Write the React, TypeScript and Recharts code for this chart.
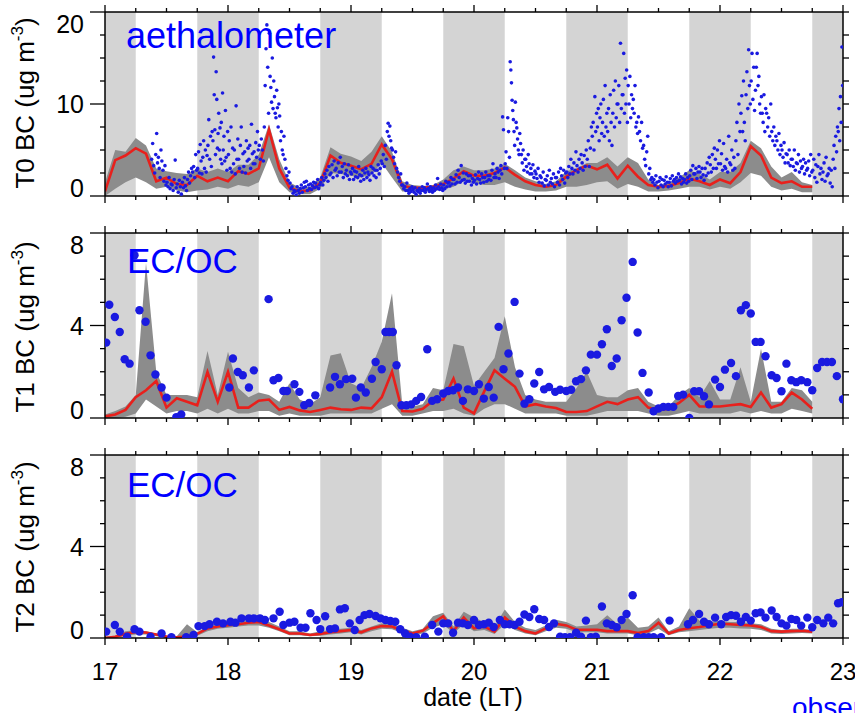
import React from "react";
import { ComposedChart, Area, Line, Scatter, XAxis, YAxis, ReferenceArea } from "recharts";

const FONT = '"Liberation Sans", Arial, Helvetica, sans-serif';
const NIGHT_FILL = "#d4d4d4";
const BAND_FILL = "#8c8c8c";
const MODEL_RED = "#e8201c";
const OBS_BLUE = "#1a1ae0";
const LABEL_BLUE = "#0000ff";

const days = [17, 18, 19, 20, 21, 22, 23];
const dayQuarters = [0, 0.25, 0.5, 0.75];
const nightStart = [17.0, 17.75, 18.75, 19.75, 20.75, 21.75, 22.75];
const nightEnd = [17.25, 18.25, 19.25, 20.25, 21.25, 22.25, 23.0];

// model output every 2 h from 17.00 to 22.75
const MODEL_START = 17;
const MODEL_STEP = 2 / 24;

// T0 (ug m-3)
const t0Mean = [
  0.5, 3.9, 4.4, 5.2, 4.6, 1.6, 2.0, 1.3, 1.2, 2.2, 1.6, 2.0,
  1.6, 2.7, 2.4, 3.0, 7.2, 3.0, 0.9, 0.5, 0.6, 1.4, 4.4, 3.6,
  3.3, 2.9, 3.5, 5.6, 4.0, 1.1, 0.9, 0.9, 1.0, 1.3, 1.9, 2.7,
  2.2, 2.2, 2.5, 3.1, 2.3, 1.6, 1.2, 1.0, 1.2, 2.1, 2.8, 3.3,
  2.9, 3.4, 1.9, 3.3, 2.1, 1.2, 1.0, 1.1, 1.4, 1.9, 1.6, 1.2,
  1.8, 1.4, 2.6, 5.4, 4.4, 2.0, 1.4, 1.6, 1.0, 1.0,
];
const t0High = [
  1.5, 5.0, 4.8, 6.3, 5.5, 3.0, 2.7, 2.5, 2.4, 3.0, 2.6, 3.0,
  2.6, 3.4, 3.4, 4.5, 7.8, 4.0, 1.5, 0.9, 1.0, 2.0, 5.3, 4.6,
  4.3, 3.8, 4.8, 6.5, 4.8, 1.6, 1.2, 1.1, 1.2, 1.8, 2.8, 3.2,
  2.8, 2.8, 3.0, 3.5, 2.8, 2.0, 1.6, 1.3, 1.6, 2.7, 3.0, 3.6,
  3.6, 4.2, 3.2, 4.2, 3.6, 1.8, 1.2, 1.4, 2.0, 2.8, 2.4, 1.8,
  2.6, 2.6, 3.6, 6.0, 5.2, 3.2, 2.0, 2.6, 1.5, 1.2,
];
const t0Low = [
  0.0, 0.8, 1.5, 2.0, 1.5, 0.8, 1.0, 0.6, 0.4, 0.6, 0.7, 1.0,
  0.8, 1.2, 1.0, 1.5, 4.2, 1.5, 0.4, 0.2, 0.2, 0.8, 2.5, 2.4,
  2.2, 2.0, 2.4, 3.6, 2.0, 0.5, 0.5, 0.5, 0.5, 0.7, 1.0, 1.6,
  1.4, 1.2, 1.2, 1.5, 1.0, 0.7, 0.5, 0.5, 0.6, 1.0, 1.0, 1.2,
  1.5, 1.6, 0.8, 1.3, 1.0, 0.5, 0.5, 0.6, 0.8, 1.0, 1.0, 0.7,
  1.0, 0.8, 1.5, 2.5, 2.2, 1.0, 0.6, 0.8, 0.4, 0.4,
];

// T1
const t1Mean = [
  0.07, 0.15, 0.35, 0.9, 1.2, 1.6, 0.45, 0.85, 0.7, 0.55, 1.99, 0.7,
  2.0, 0.45, 0.45, 0.75, 0.8, 0.35, 0.48, 0.33, 0.26, 0.35, 0.45, 0.38,
  0.35, 0.45, 0.42, 0.9, 2.0, 0.3, 0.28, 0.4, 0.75, 0.8, 1.7, 0.45,
  0.2, 1.15, 2.06, 1.7, 1.35, 0.5, 0.6, 0.5, 0.43, 0.26, 0.26, 0.3,
  0.5, 0.7, 0.6, 0.8, 0.9, 0.45, 0.35, 0.4, 0.65, 1.0, 0.5, 0.5,
  0.5, 0.55, 0.6, 0.48, 1.1, 0.45, 0.6, 1.1, 0.8, 0.4,
];
const t1High = [
  0.15, 0.3, 0.5, 1.0, 6.7, 2.0, 1.0, 1.0, 1.0, 0.9, 2.9, 1.0,
  2.86, 1.3, 0.9, 1.1, 1.0, 0.7, 1.5, 0.8, 0.6, 0.9, 2.7, 2.8,
  1.5, 1.3, 2.2, 3.3, 5.4, 0.6, 0.5, 0.6, 1.3, 1.2, 3.2, 3.1,
  1.4, 2.0, 2.6, 4.4, 2.2, 1.0, 0.8, 0.7, 0.7, 0.7, 1.3, 2.0,
  1.0, 0.9, 0.9, 1.2, 1.3, 0.7, 0.5, 0.5, 1.0, 1.3, 0.9, 1.6,
  0.8, 0.8, 2.2, 0.7, 3.0, 0.7, 0.7, 1.3, 1.2, 0.7,
];
const t1Low = [
  0, 0, 0.05, 0.2, 0.8, 0.5, 0.2, 0.3, 0.3, 0.2, 0.4, 0.2,
  0.4, 0.2, 0.2, 0.3, 0.3, 0.1, 0.2, 0.1, 0.1, 0.1, 0.2, 0.2,
  0.2, 0.2, 0.2, 0.4, 0.6, 0.1, 0.1, 0.2, 0.3, 0.3, 0.4, 0.2,
  0.1, 0.4, 0.6, 0.6, 0.4, 0.2, 0.2, 0.2, 0.2, 0.1, 0.1, 0.1,
  0.2, 0.3, 0.3, 0.3, 0.3, 0.2, 0.1, 0.1, 0.2, 0.3, 0.2, 0.2,
  0.2, 0.2, 0.3, 0.2, 0.3, 0.2, 0.2, 0.4, 0.3, 0.2,
];

// T2
const t2Mean = [
  0.0, 0.05, 0.18, 0.26, 0.24, 0.15, 0.06, 0.03, 0.06, 0.18, 0.42, 0.5,
  0.56, 0.6, 0.67, 0.7, 0.55, 0.38, 0.2, 0.2, 0.13, 0.18, 0.25, 0.3,
  0.35, 0.25, 0.42, 0.52, 0.5, 0.33, 0.2, 0.32, 0.65, 0.95, 0.3, 0.9,
  0.42, 0.5, 0.28, 0.9, 0.5, 0.3, 0.2, 0.42, 0.62, 0.55, 0.36, 0.36,
  0.36, 0.3, 0.3, 0.3, 0.22, 0.3, 0.67, 0.2, 0.35, 0.43, 0.48, 0.56,
  0.62, 0.6, 0.57, 0.55, 0.48, 0.3, 0.28, 0.3, 0.32, 0.28,
];
const t2High = [
  0.05, 0.1, 0.3, 0.35, 0.3, 0.2, 0.1, 0.08, 0.6, 0.25, 0.5, 0.6,
  0.65, 0.7, 0.8, 0.85, 0.7, 0.5, 0.3, 0.3, 0.2, 0.3, 0.35, 0.4,
  0.45, 0.35, 0.5, 0.65, 0.6, 0.45, 0.3, 0.4, 0.95, 1.1, 0.5, 1.15,
  0.9, 0.7, 0.5, 1.25, 0.7, 0.45, 0.35, 0.55, 0.8, 0.7, 0.5, 0.55,
  0.6, 1.0, 0.6, 0.9, 0.45, 0.5, 0.9, 0.3, 0.5, 1.3, 0.75, 0.7,
  0.75, 0.7, 0.7, 0.65, 0.6, 0.4, 0.35, 0.4, 0.4, 0.35,
];
const t2Low = [
  0, 0, 0.1, 0.15, 0.15, 0.08, 0.02, 0, 0.02, 0.1, 0.3, 0.4,
  0.45, 0.5, 0.55, 0.55, 0.45, 0.3, 0.12, 0.12, 0.08, 0.1, 0.15, 0.2,
  0.25, 0.15, 0.3, 0.4, 0.38, 0.22, 0.12, 0.2, 0.45, 0.6, 0.2, 0.6,
  0.3, 0.35, 0.18, 0.6, 0.35, 0.2, 0.12, 0.3, 0.45, 0.4, 0.25, 0.25,
  0.25, 0.2, 0.2, 0.2, 0.12, 0.2, 0.4, 0.12, 0.25, 0.3, 0.35, 0.4,
  0.45, 0.45, 0.42, 0.4, 0.35, 0.2, 0.18, 0.2, 0.22, 0.2,
];

// aethalometer samples, grouped by hour from 17.00 (one list per hour)
const aethHourly: number[][] = [
  // 17th
  [], [], [], [], [], [], [], [], [],
  [4.0, 5.7, 3.3, 2.5, 4.5], [6.8, 3.6, 4.2, 3.0, 2.0, 5.0], [3.8, 2.8, 1.6, 3.3, 1.2],
  [1.5, 1.0, 2.0, 0.8, 1.3], [1.2, 0.6, 1.8, 3.9, 0.9], [1.3, 0.4, 1.7, 1.0, 0.2],
  [1.5, 0.9, 2.0, 1.1, 0.6], [1.8, 2.6, 1.4, 2.2, 3.0], [2.6, 3.2, 2.0, 4.5, 2.8],
  [3.0, 4.8, 2.5, 5.6, 3.8, 2.4], [4.2, 6.0, 3.0, 5.0, 2.6, 4.4], [5.5, 8.3, 4.0, 6.5, 3.2, 7.0],
  [6.0, 15.1, 11.0, 7.2, 4.5, 13.5, 10.5, 5.2], [6.8, 9.0, 5.0, 7.4, 4.0, 8.0, 3.5, 11.2],
  [5.0, 6.5, 3.8, 9.3, 4.2, 2.8, 7.0],
  // 18th
  [4.5, 6.0, 3.0, 7.5, 2.6, 5.2], [3.5, 5.0, 2.4, 9.8, 4.0, 6.2], [4.0, 3.0, 5.5, 7.5, 2.6, 4.6],
  [3.2, 4.8, 2.5, 6.0, 3.8, 5.2], [4.0, 5.5, 3.0, 7.8, 4.6, 3.5], [4.8, 3.5, 5.8, 4.2, 7.0, 5.0],
  [5.5, 4.0, 6.2, 5.0, 3.8], [7.5, 12.0, 16.0, 18.6, 14.0, 9.0],
  [17.7, 13.0, 11.8, 10.2, 15.0, 9.5, 12.5], [10.8, 9.0, 8.5, 11.5, 9.6, 7.5, 10.0],
  [8.7, 6.0, 7.0, 5.0, 4.5, 6.5], [4.0, 3.0, 2.2, 1.7, 2.6],
  [1.4, 0.8, 1.0, 0.3, 0.6], [0.5, 0.1, 1.0, 0.6, 0.3], [0.8, 1.2, 0.4, 0.9, 1.5],
  [1.0, 1.6, 0.6, 1.2, 0.8], [1.3, 0.7, 1.1, 1.5, 0.9], [1.4, 1.0, 1.8, 0.8, 1.2],
  [1.5, 2.0, 1.2, 1.7, 2.4], [2.0, 2.8, 1.6, 3.2, 2.3], [2.5, 3.4, 2.0, 3.8, 2.8],
  [3.0, 2.2, 3.6, 2.6, 4.2], [2.6, 3.2, 2.0, 3.5, 2.4], [2.8, 2.2, 3.4, 1.8, 2.6],
  // 19th
  [2.4, 3.0, 1.8, 2.7, 2.1], [2.6, 2.0, 3.2, 2.3, 1.6], [2.2, 2.8, 1.8, 2.5, 3.0],
  [2.0, 2.6, 2.3, 1.7, 3.2], [2.5, 3.0, 2.2, 2.8, 2.0], [2.8, 3.4, 2.4, 3.0, 3.8],
  [3.5, 4.5, 3.2, 5.5, 4.0], [7.0, 7.9, 6.5, 7.6, 6.0, 5.2], [5.0, 4.2, 3.5, 4.8, 3.0],
  [2.6, 2.0, 1.6, 2.4, 1.2], [1.2, 0.8, 1.0, 0.6, 1.4], [0.6, 0.3, 0.8, 0.5, 1.0],
  [0.7, 0.4, 0.9, 0.2, 0.6], [0.5, 0.8, 0.3, 0.6, 1.0], [0.6, 0.9, 0.4, 0.7, 1.3],
  [0.8, 0.5, 1.0, 0.7, 0.4], [0.9, 0.6, 1.2, 0.8, 1.9], [1.0, 0.7, 1.3, 0.9, 0.6],
  [1.2, 0.8, 1.6, 1.0, 1.4], [1.5, 1.1, 2.0, 1.3, 1.8], [1.8, 1.3, 2.3, 1.5, 2.8],
  [2.0, 1.5, 3.3, 1.7, 2.5], [1.8, 1.4, 2.4, 1.6, 2.2], [1.6, 2.2, 1.2, 1.9, 1.5],
  // 20th
  [1.7, 2.3, 1.3, 1.9, 2.6], [1.8, 1.4, 2.4, 2.0, 1.5], [2.0, 2.6, 1.6, 2.2, 1.8],
  [2.2, 1.7, 2.8, 3.5, 2.0], [2.4, 2.0, 3.0, 2.6, 1.9], [2.8, 3.3, 2.4, 8.6, 7.2, 3.0],
  [3.5, 4.8, 3.0, 8.5, 7.0, 4.2], [14.6, 13.7, 12.3, 10.4, 9.3, 8.3, 7.0, 5.5],
  [10.2, 8.0, 7.4, 6.2, 5.0, 4.5, 6.8], [5.7, 4.5, 3.6, 5.0, 2.8, 4.0],
  [4.0, 3.2, 2.6, 4.5, 3.5, 2.4], [3.0, 2.4, 3.4, 2.0, 2.7],
  [2.4, 1.9, 3.0, 1.5, 2.2], [2.0, 1.4, 2.6, 1.1, 1.8], [1.7, 2.2, 1.2, 2.8, 1.5],
  [1.9, 1.3, 2.4, 1.0, 2.0], [2.0, 1.5, 2.6, 1.2, 3.0], [2.2, 1.8, 2.8, 1.4, 2.5],
  [2.6, 2.0, 3.2, 2.4, 4.0], [3.0, 2.4, 3.6, 2.8, 4.8], [3.3, 2.6, 4.0, 3.0, 4.5],
  [3.6, 2.8, 4.4, 3.2, 5.0], [4.0, 6.0, 3.2, 5.2, 7.5], [6.5, 8.0, 5.0, 10.8, 7.0, 9.0],
  // 21st
  [7.5, 9.5, 6.0, 8.5, 10.0, 6.8], [8.0, 10.5, 6.5, 12.0, 7.5, 9.0], [7.0, 9.5, 6.0, 11.0, 8.0, 5.5],
  [9.0, 11.5, 7.5, 12.5, 8.5, 10.0], [10.0, 12.0, 8.0, 16.6, 9.5, 11.0],
  [11.0, 15.5, 9.0, 12.8, 10.0, 13.7, 8.0], [12.0, 10.0, 13.0, 8.5, 11.0, 9.5],
  [10.5, 9.0, 12.0, 7.5, 8.0, 6.8], [8.6, 7.0, 6.0, 8.0, 5.2], [5.5, 4.0, 3.3, 4.8, 6.5],
  [2.4, 3.0, 1.8, 2.0, 1.5], [1.8, 1.2, 2.2, 1.5, 0.9], [1.6, 2.0, 1.2, 1.8, 1.0],
  [1.7, 1.3, 2.1, 1.5, 1.0], [1.5, 1.9, 1.1, 2.2, 1.6], [1.8, 1.4, 2.0, 1.6, 2.4],
  [1.7, 2.1, 1.3, 1.9, 1.5], [1.8, 2.4, 1.4, 2.0, 1.6], [2.2, 2.8, 1.8, 3.3, 2.4],
  [2.4, 3.0, 1.9, 2.6, 3.2], [2.6, 2.0, 3.0, 2.3, 1.7], [3.0, 2.2, 3.6, 2.5, 4.2],
  [3.4, 2.6, 4.5, 3.0, 5.2], [4.0, 3.0, 5.0, 3.5, 6.0],
  // 22nd
  [3.5, 4.6, 2.8, 5.7, 3.2], [3.0, 4.0, 2.6, 6.5, 3.6], [3.4, 5.0, 2.8, 4.2, 3.0],
  [6.0, 8.0, 4.5, 10.0, 7.0], [9.0, 10.9, 7.0, 12.5, 8.0, 6.0], [11.0, 13.5, 9.5, 15.9, 12.0, 10.0],
  [12.5, 15.5, 10.5, 14.0, 9.3, 11.5], [14.0, 15.5, 12.0, 13.0, 10.0, 9.0],
  [10.8, 9.0, 8.0, 11.0, 7.0, 9.5], [9.0, 7.5, 8.5, 6.5, 10.0], [7.0, 6.0, 7.5, 5.5, 6.5],
  [6.0, 5.0, 6.8, 4.5, 5.5], [5.0, 4.2, 5.8, 3.6, 4.6], [4.5, 3.6, 5.0, 3.3, 4.0],
  [4.0, 3.2, 5.0, 2.8, 3.6], [3.5, 4.5, 2.6, 3.8, 3.0], [3.2, 4.0, 2.4, 3.6, 2.8],
  [3.0, 3.8, 2.2, 4.5, 2.6], [2.8, 4.0, 2.0, 3.4, 1.5], [3.2, 4.5, 2.4, 3.0, 1.8],
  [2.6, 3.6, 1.6, 4.2, 2.2], [2.4, 3.0, 1.4, 2.8, 1.0], [4.0, 5.5, 3.0, 6.5, 4.8, 7.5],
  [7.0, 9.5, 6.0, 10.8, 8.0, 16.2, 12.0],
];

// EC/OC filter samples: [day, ug m-3]
const t1Obs: [number, number][] = [
  [17.01, 3.26], [17.035, 4.9], [17.08, 4.37], [17.12, 3.72], [17.16, 2.54], [17.2, 2.35],
  [17.24, 7.04], [17.28, 4.66], [17.33, 4.16], [17.37, 2.71], [17.41, 1.88], [17.46, 1.32],
  [17.5, 0.88], [17.58, 0.04], [17.62, 0.15],
  [18.01, 1.32], [18.04, 2.57], [18.08, 1.99], [18.12, 1.85], [18.17, 1.32], [18.21, 2.06],
  [18.33, 5.14], [18.37, 1.63], [18.41, 1.73], [18.45, 1.17], [18.48, 1.17], [18.54, 1.46],
  [18.58, 1.13], [18.62, 0.55], [18.66, 0.65], [18.71, 0.98], [18.83, 1.32], [18.87, 1.78],
  [18.91, 1.46], [18.96, 1.68], [19.01, 1.7], [19.04, 0.88], [19.08, 1.32], [19.12, 1.1],
  [19.17, 1.7], [19.2, 2.42], [19.25, 2.11], [19.28, 3.72], [19.31, 3.72], [19.34, 3.72],
  [19.37, 2.28], [19.41, 0.55], [19.45, 0.55], [19.49, 0.59], [19.53, 0.74], [19.57, 0.91],
  [19.62, 2.97], [19.66, 0.74], [19.7, 0.81], [19.75, 1.06], [19.79, 1.17], [19.83, 1.2],
  [19.87, 1.32], [19.91, 0.74], [19.95, 1.24], [20.0, 1.17], [20.04, 1.46], [20.08, 0.84],
  [20.12, 1.34], [20.16, 0.88], [20.2, 3.94], [20.24, 2.11], [20.28, 2.79], [20.33, 5.02],
  [20.37, 1.92], [20.41, 0.62], [20.45, 0.81], [20.49, 1.49], [20.53, 1.99], [20.57, 1.24],
  [20.61, 1.34], [20.66, 1.13], [20.7, 1.22], [20.75, 1.17], [20.79, 1.22], [20.83, 1.59],
  [20.87, 1.68], [20.91, 2.06], [20.95, 2.74], [21.0, 2.74], [21.04, 3.19], [21.08, 3.84],
  [21.12, 2.25], [21.16, 2.57], [21.2, 4.23], [21.24, 5.2], [21.29, 6.75], [21.33, 3.7],
  [21.37, 1.95], [21.42, 1.1], [21.46, 0.29], [21.5, 0.41], [21.54, 0.48], [21.58, 0.48],
  [21.62, 0.48], [21.66, 0.95], [21.7, 1.01], [21.75, 0.0], [21.79, 1.16], [21.83, 1.16],
  [21.87, 0.94], [21.91, 0.59], [21.96, 1.66], [22.0, 1.34], [22.04, 2.09], [22.09, 2.38],
  [22.13, 1.81], [22.17, 4.66], [22.21, 4.88], [22.25, 4.52], [22.29, 3.29], [22.33, 3.29],
  [22.37, 2.67], [22.42, 1.85], [22.46, 1.73], [22.5, 1.16], [22.54, 2.35], [22.58, 1.63],
  [22.62, 1.55], [22.66, 1.63], [22.71, 1.55], [22.75, 1.2], [22.79, 2.16], [22.83, 2.42],
  [22.87, 2.42], [22.91, 2.42], [22.95, 1.81], [23.0, 0.81],
];

const t2Obs: [number, number][] = [
  [17.01, 0.28], [17.08, 0.57], [17.12, 0.28], [17.18, 0.06], [17.24, 0.38], [17.28, 0.28],
  [17.37, 0.06], [17.46, 0.2], [17.54, 0.03], [17.66, 0.03], [17.72, 0.13], [17.76, 0.52],
  [17.81, 0.52], [17.85, 0.6], [17.91, 0.71], [17.96, 0.64], [18.02, 0.71], [18.06, 0.67],
  [18.11, 0.86], [18.17, 0.86], [18.21, 0.86], [18.26, 0.86], [18.3, 0.79], [18.37, 0.86],
  [18.42, 1.15], [18.45, 0.57], [18.5, 0.67], [18.54, 0.71], [18.59, 0.45], [18.63, 0.45],
  [18.67, 1.08], [18.72, 0.79], [18.75, 0.39], [18.79, 0.95], [18.83, 0.39], [18.87, 0.42],
  [18.91, 1.25], [18.95, 1.3], [18.99, 0.64], [19.03, 0.35], [19.07, 0.79], [19.11, 1.0],
  [19.15, 1.05], [19.2, 0.96], [19.24, 0.86], [19.28, 0.79], [19.32, 0.74], [19.36, 0.71],
  [19.4, 0.38], [19.44, 0.2], [19.48, 0.06], [19.53, 0.03], [19.6, 0.06], [19.66, 0.57],
  [19.71, 0.28], [19.75, 0.64], [19.79, 0.64], [19.83, 0.23], [19.87, 0.67], [19.91, 0.64],
  [19.95, 0.57], [20.0, 0.79], [20.04, 0.57], [20.08, 0.6], [20.12, 0.67], [20.16, 0.48],
  [20.21, 0.79], [20.25, 0.6], [20.29, 0.6], [20.33, 0.57], [20.37, 0.71], [20.41, 1.03],
  [20.45, 0.92], [20.49, 1.26], [20.53, 0.83], [20.57, 0.79], [20.61, 0.48], [20.65, 0.64],
  [20.7, 0.06], [20.74, 0.03], [20.78, 0.03], [20.83, 0.23], [20.87, 0.06], [20.91, 0.76],
  [20.95, 0.03], [20.99, 0.06], [21.04, 1.38], [21.08, 0.64], [21.12, 0.57], [21.16, 0.47],
  [21.2, 0.79], [21.24, 1.05], [21.29, 1.87], [21.33, 0.03], [21.38, 0.03], [21.42, 0.03],
  [21.46, 0.03], [21.52, 0.03], [21.59, 0.76], [21.74, 0.6], [21.78, 0.79], [21.83, 1.05],
  [21.87, 0.71], [21.91, 0.6], [21.96, 0.89], [22.01, 0.6], [22.05, 0.92], [22.09, 1.0],
  [22.13, 0.97], [22.17, 0.71], [22.21, 0.92], [22.25, 0.76], [22.29, 1.08], [22.33, 1.12],
  [22.37, 0.89], [22.42, 1.2], [22.46, 0.92], [22.5, 0.64], [22.54, 0.54], [22.58, 0.83],
  [22.62, 0.79], [22.66, 0.54], [22.71, 0.89], [22.75, 0.47], [22.79, 0.79], [22.84, 0.64],
  [22.88, 0.89], [22.92, 0.64], [22.96, 1.52], [22.99, 1.56],
];

const xTicks = days.flatMap((d) => (d === 23 ? [d] : dayQuarters.map((q) => d + q)));

type ModelRow = { t: number; mean: number; band: [number, number] };
type ObsRow = { t: number; v: number };

function buildModel(mean: number[], low: number[], high: number[]): ModelRow[] {
  return mean.map((m, i) => ({ t: MODEL_START + i * MODEL_STEP, mean: m, band: [low[i], high[i]] }));
}

const aethObs: ObsRow[] = aethHourly.flatMap((vals, h) =>
  vals.map((v, i) => ({ t: 17 + (h + (i + 0.5) / vals.length) / 24, v }))
);
const toRows = (list: [number, number][]): ObsRow[] => list.map(([t, v]) => ({ t, v }));

const BottomTick = ({ x, y, payload, withLabel }: any) => {
  const major = Number.isInteger(payload.value);
  return (
    <g>
      <line x1={x} x2={x} y1={y} y2={y + (major ? 7 : 4)} stroke="#000" strokeWidth={1.3} />
      {withLabel && major ? (
        <text x={x} y={y + 42} textAnchor="middle" fontFamily={FONT} fontSize={24} fill="#000">
          {payload.value}
        </text>
      ) : null}
    </g>
  );
};

const TopTick = ({ x, y, payload }: any) => {
  const major = Number.isInteger(payload.value);
  return <line x1={x} x2={x} y1={y} y2={y - (major ? 7 : 4)} stroke="#000" strokeWidth={1.3} />;
};

const LeftTick = ({ x, y, payload, labelled, yMax }: any) => {
  const major = labelled.includes(payload.value);
  // end labels sit inside the frame, the rest are centred on their tick
  const dy = payload.value === yMax ? 21 : payload.value === 0 ? 1 : 9;
  return (
    <g>
      <line x1={x} x2={x - (major ? 15 : 5)} y1={y} y2={y} stroke="#000" strokeWidth={1.3} />
      {major ? (
        <text x={x - 21} y={y + dy} textAnchor="end" fontFamily={FONT} fontSize={25} fill="#000">
          {payload.value}
        </text>
      ) : null}
    </g>
  );
};

const RightTick = ({ x, y }: any) => (
  <line x1={x} x2={x + 6} y1={y} y2={y} stroke="#000" strokeWidth={1.3} />
);

type PanelProps = {
  height: number;
  marginTop: number;
  marginBottom: number;
  yMax: number;
  yStep: number;
  yLabelled: number[];
  model: ModelRow[];
  obs: ObsRow[];
  dotR: number;
  xLabels: boolean;
};

function Panel(p: PanelProps) {
  const yTicks: number[] = [];
  for (let v = 0; v <= p.yMax + 1e-9; v += p.yStep) yTicks.push(Math.round(v * 100) / 100);
  const axisLine = { stroke: "#000", strokeWidth: 1.5 };

  return (
    <ComposedChart
      width={855}
      height={p.height}
      data={p.model}
      margin={{ top: p.marginTop, right: 11, bottom: p.marginBottom, left: 0 }}
    >
      <XAxis
        type="number"
        dataKey="t"
        domain={[17, 23]}
        ticks={xTicks}
        interval={0}
        height={1}
        tickSize={0}
        tickMargin={0}
        tickLine={false}
        axisLine={axisLine}
        allowDataOverflow
        tick={(tp: any) => <BottomTick {...tp} withLabel={p.xLabels} />}
      />
      <XAxis
        xAxisId="top"
        orientation="top"
        type="number"
        dataKey="t"
        domain={[17, 23]}
        ticks={xTicks}
        interval={0}
        height={1}
        tickSize={0}
        tickMargin={0}
        tickLine={false}
        axisLine={axisLine}
        allowDataOverflow
        tick={(tp: any) => <TopTick {...tp} />}
      />
      <YAxis
        type="number"
        domain={[0, p.yMax]}
        ticks={yTicks}
        interval={0}
        width={105}
        tickSize={0}
        tickMargin={0}
        tickLine={false}
        axisLine={axisLine}
        allowDataOverflow
        tick={(tp: any) => <LeftTick {...tp} labelled={p.yLabelled} yMax={p.yMax} />}
      />
      <YAxis
        yAxisId="r"
        orientation="right"
        type="number"
        domain={[0, p.yMax]}
        ticks={yTicks}
        interval={0}
        width={1}
        tickSize={0}
        tickMargin={0}
        tickLine={false}
        axisLine={axisLine}
        allowDataOverflow
        tick={(tp: any) => <RightTick {...tp} />}
      />
      {nightStart.map((s, i) => (
        <ReferenceArea
          key={`night-${i}`}
          x1={s}
          x2={nightEnd[i]}
          fill={NIGHT_FILL}
          fillOpacity={1}
          stroke="none"
          ifOverflow="hidden"
        />
      ))}
      <Area
        type="linear"
        dataKey="band"
        stroke="none"
        fill={BAND_FILL}
        fillOpacity={1}
        isAnimationActive={false}
        activeDot={false}
      />
      <Line
        type="linear"
        dataKey="mean"
        stroke={MODEL_RED}
        strokeWidth={2.6}
        dot={false}
        activeDot={false}
        isAnimationActive={false}
      />
      <Scatter
        data={p.obs}
        dataKey="v"
        isAnimationActive={false}
        shape={(sp: any) => <circle cx={sp.cx} cy={sp.cy} r={p.dotR} fill={OBS_BLUE} />}
      />
    </ComposedChart>
  );
}

function YLabel({ x, y, name }: { x: number; y: number; name: string }) {
  return (
    <text
      transform={`translate(${x},${y}) rotate(-90)`}
      textAnchor="middle"
      fontFamily={FONT}
      fontSize={26}
      fill="#000"
    >
      {name} (ug m
      <tspan fontSize={17} dy={-11}>-3</tspan>
      <tspan dy={11}>)</tspan>
    </text>
  );
}

export default function App() {
  const t0Model = buildModel(t0Mean, t0Low, t0High);
  const t1Model = buildModel(t1Mean, t1Low, t1High);
  const t2Model = buildModel(t2Mean, t2Low, t2High);

  return (
    <div
      style={{
        position: "absolute",
        left: 0,
        top: 0,
        width: 855,
        height: 713,
        overflow: "hidden",
        background: "#fff",
      }}
    >
      <div style={{ position: "absolute", left: 0, top: 0 }}>
        <Panel height={215} marginTop={11} marginBottom={18} yMax={20} yStep={2.5}
          yLabelled={[0, 10, 20]} model={t0Model} obs={aethObs} dotR={1.8} xLabels={false} />
      </div>
      <div style={{ position: "absolute", left: 0, top: 215 }}>
        <Panel height={225} marginTop={17} marginBottom={21} yMax={8} yStep={1}
          yLabelled={[0, 4, 8]} model={t1Model} obs={toRows(t1Obs)} dotR={4.2} xLabels={false} />
      </div>
      <div style={{ position: "absolute", left: 0, top: 440 }}>
        <Panel height={273} marginTop={14} marginBottom={74} yMax={8} yStep={1}
          yLabelled={[0, 4, 8]} model={t2Model} obs={toRows(t2Obs)} dotR={4.2} xLabels={true} />
      </div>
      <svg
        width={855}
        height={713}
        style={{ position: "absolute", left: 0, top: 0, pointerEvents: "none" }}
      >
        <YLabel x={34} y={103} name="T0 BC" />
        <YLabel x={34} y={327} name="T1 BC" />
        <YLabel x={34} y={547} name="T2 BC" />
        <text x={126} y={48} fontFamily={FONT} fontSize={36} fill={LABEL_BLUE}>aethalometer</text>
        <text x={127} y={273} fontFamily={FONT} fontSize={35} fill={LABEL_BLUE}>EC/OC</text>
        <text x={127} y={497} fontFamily={FONT} fontSize={35} fill={LABEL_BLUE}>EC/OC</text>
        <text x={473} y={706} textAnchor="middle" fontFamily={FONT} fontSize={25} fill="#000">date (LT)</text>
        <text x={792} y={717} fontFamily={FONT} fontSize={28} fill={LABEL_BLUE}>observation</text>
      </svg>
    </div>
  );
}
